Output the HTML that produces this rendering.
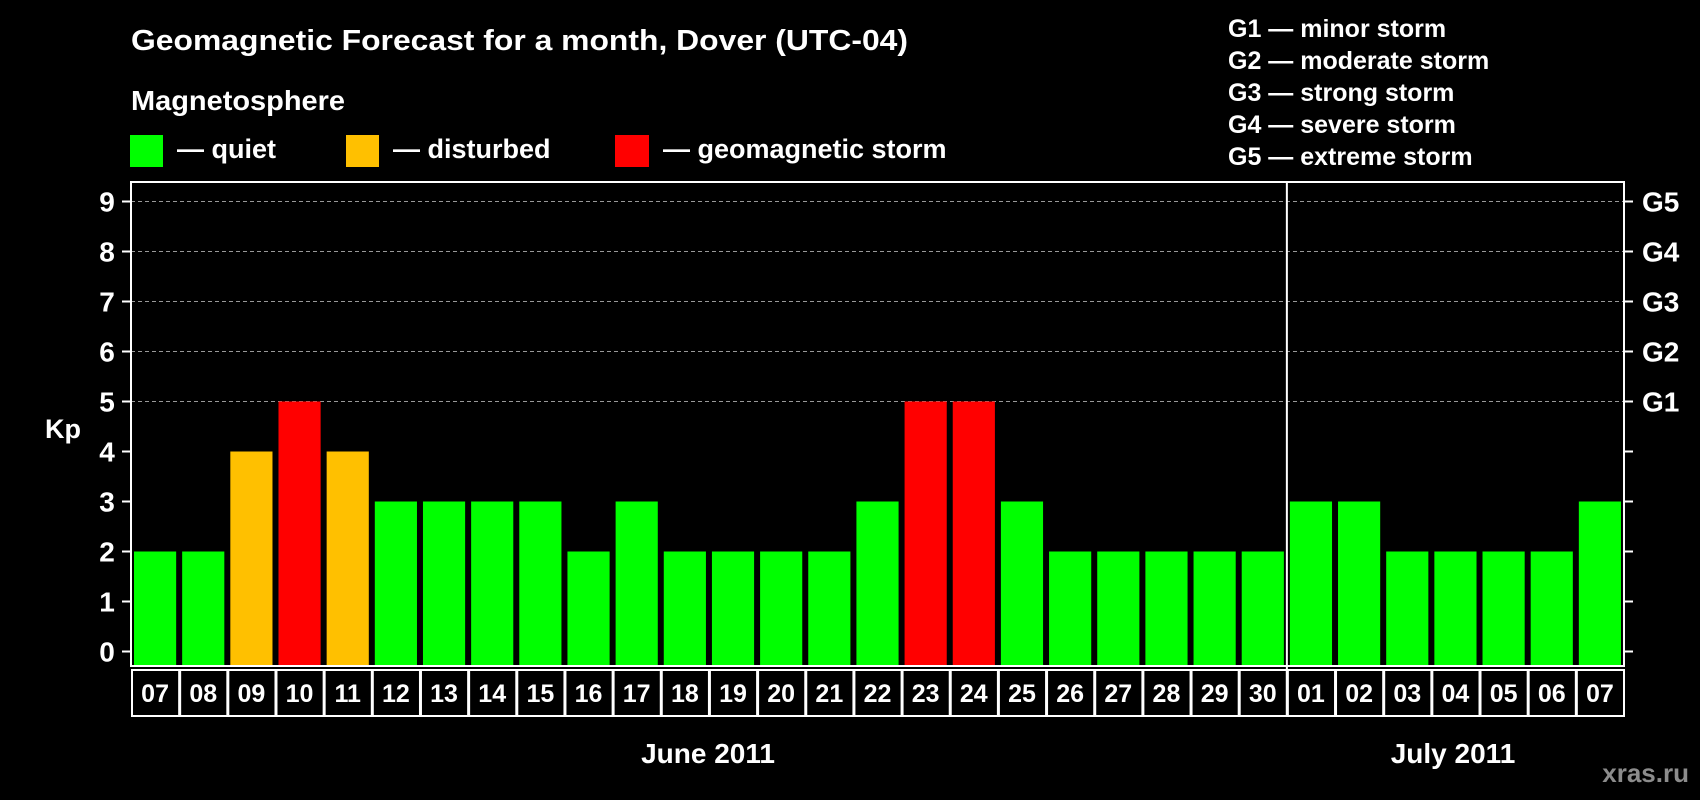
<!DOCTYPE html>
<html><head><meta charset="utf-8"><style>
html,body{margin:0;padding:0;background:#000;}
svg{display:block;font-family:"Liberation Sans",Arial,sans-serif;font-weight:bold;}
</style></head><body>
<svg id="chart" width="1700" height="800" viewBox="0 0 1700 800">
<rect x="0" y="0" width="1700" height="800" fill="#000"/>
<text x="131" y="50" fill="#fff" font-size="29" textLength="777" lengthAdjust="spacingAndGlyphs">Geomagnetic Forecast for a month, Dover (UTC-04)</text>
<text x="131" y="110" fill="#fff" font-size="28" textLength="214" lengthAdjust="spacingAndGlyphs">Magnetosphere</text>
<g><rect x="130" y="135" width="33" height="32" fill="#00ff00"/><text x="177" y="158" fill="#fff" font-size="27">— quiet</text></g>
<g><rect x="346" y="135" width="33" height="32" fill="#ffc000"/><text x="393" y="158" fill="#fff" font-size="27">— disturbed</text></g>
<g><rect x="615" y="135" width="34" height="32" fill="#ff0000"/><text x="663" y="158" fill="#fff" font-size="27">— geomagnetic storm</text></g>
<g fill="#fff" font-size="25">
<text x="1228" y="37">G1 — minor storm</text>
<text x="1228" y="69">G2 — moderate storm</text>
<text x="1228" y="101">G3 — strong storm</text>
<text x="1228" y="133">G4 — severe storm</text>
<text x="1228" y="165">G5 — extreme storm</text>
</g>
<g id="grid"></g>
<g id="bars"></g>
<g id="axes"></g>
<text x="63" y="438" fill="#fff" font-size="27" text-anchor="middle">Kp</text>
<text x="708" y="763" fill="#fff" font-size="28" text-anchor="middle">June 2011</text>
<text x="1453" y="763" fill="#fff" font-size="28" text-anchor="middle">July 2011</text>
<text x="1689" y="782" fill="#8c8c8c" font-size="26" text-anchor="end">xras.ru</text>
</svg>
<script>
const days = ["07","08","09","10","11","12","13","14","15","16","17","18","19","20","21","22","23","24","25","26","27","28","29","30","01","02","03","04","05","06","07"];
const kpValues = [2,2,4,5,4,3,3,3,3,2,3,2,2,2,2,3,5,5,3,2,2,2,2,2,3,3,2,2,2,2,3];
const yTicks = [0,1,2,3,4,5,6,7,8,9];
const gLabels = ["G1","G2","G3","G4","G5"];
const gLevels = [5,6,7,8,9];
const monthSplitIndex = 24;

const NS = "http://www.w3.org/2000/svg";
const L = 131, R = 1624, T = 182, B = 666;
const slot = (R - L) / days.length;
function xAt(i){ return L + i * slot; }
function yAt(v){ return 651.5 - v * 50; }
function mk(tag, attrs, parent){
  const e = document.createElementNS(NS, tag);
  for (const k in attrs) e.setAttribute(k, attrs[k]);
  parent.appendChild(e); return e;
}
const grid = document.getElementById('grid');
const bars = document.getElementById('bars');
const axes = document.getElementById('axes');

gLevels.forEach(v=>{
  const ln = mk('line',{x1:L,x2:R,y1:yAt(v),y2:yAt(v),stroke:'#999','stroke-width':1,'stroke-dasharray':'4,3'},grid);
  
  
});

kpValues.forEach((v,i)=>{
  const col = v >= 5 ? '#ff0000' : (v >= 4 ? '#ffc000' : '#00ff00');
  const r = mk('rect',{x:xAt(i)+3,y:yAt(v),width:slot-6,height:B-yAt(v),fill:col},bars);
  
  
  const box = mk('rect',{x:xAt(i)+1,y:670,width:slot-1,height:46,fill:'none',stroke:'#fff','stroke-width':2},axes);
  
  
  const t = mk('text',{x:xAt(i)+slot/2,y:702,fill:'#fff','font-size':25,'text-anchor':'middle'},axes);
  t.textContent = days[i];
  
  
});

const frame = mk('rect',{x:L,y:T,width:R-L,height:B-T,fill:'none',stroke:'#fff','stroke-width':2},axes);


const sep = mk('line',{x1:xAt(monthSplitIndex),x2:xAt(monthSplitIndex),y1:T,y2:716,stroke:'#fff','stroke-width':2},axes);



yTicks.forEach(v=>{
  const a = mk('line',{x1:122,x2:L,y1:yAt(v),y2:yAt(v),stroke:'#fff','stroke-width':2},axes);
  
  
  const b = mk('line',{x1:R,x2:1633,y1:yAt(v),y2:yAt(v),stroke:'#fff','stroke-width':2},axes);
  
  
  const t = mk('text',{x:107,y:yAt(v)+10,fill:'#fff','font-size':28,'text-anchor':'middle'},axes);
  t.textContent = v;
  
  
});
gLabels.forEach((g,i)=>{
  const t = mk('text',{x:1642,y:yAt(gLevels[i])+10,fill:'#fff','font-size':28},axes);
  t.textContent = g;
  
  
});
</script>
</body></html>
